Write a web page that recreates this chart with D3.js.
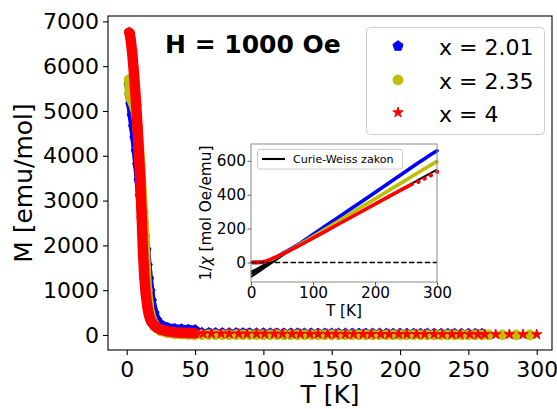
<!DOCTYPE html>
<html lang="en">
<head>
	<title>M(T), H = 1000 Oe</title>
	<meta charset="utf-8">
	<script src="https://d3js.org/d3.v7.min.js" charset="utf-8"></script>
	<style>
	body { margin: 0; background: #fff; }
	svg text { font-family: "DejaVu Sans", sans-serif; fill: #000; }
	</style>
</head>
<body>
	<script>
	// legend / series
	var seriesNames = ['x = 2.01', 'x = 2.35', 'x = 4'];
	var seriesColors = ['#0000ff', '#bfbf00', '#ff0000'];

	// main plot, dense part below 50 K  (M in emu/mol)
	var tLow = [1.8, 2.2, 3, 4, 5, 6, 7, 8, 9, 10, 11, 12, 13, 14, 15, 16, 17, 18, 20, 22, 25, 30, 35, 40, 45, 50];
	var mBlueLow = [5580, 5350, 5150, 4900, 4650, 4400, 4100, 3800, 3450, 3100, 2800, 2500, 2200, 1900, 1550, 1250, 980, 760, 480, 330, 230, 160, 140, 130, 120, 110];
	var mYellowLow = [5700, 5400, 5280, 5230, 5150, 5050, 4900, 4600, 4200, 3800, 3200, 2750, 2200, 1500, 1000, 700, 500, 380, 250, 160, 90, 50, 30, 20, 15, 10];
	var mRedLow = [6750, 6720, 6570, 6300, 5950, 5550, 5100, 4600, 4000, 3400, 2600, 1800, 1250, 900, 650, 480, 370, 300, 220, 170, 120, 80, 60, 50, 45, 40];

	// main plot, sparse part above 50 K
	var tHigh = [55, 60, 65, 70, 75, 80, 85, 90, 95, 100, 105, 110, 115, 120, 125, 130, 135, 140, 145, 150, 155, 160, 165, 170, 175, 180, 185, 190, 195, 200, 205, 210, 215, 220, 225, 230, 235, 240, 245, 250, 255, 260];
	var mBlueHigh = [50, 48, 46, 45, 44, 43, 42, 41, 40, 40, 39, 38, 38, 37, 37, 36, 36, 35, 35, 34, 34, 34, 33, 33, 33, 32, 32, 32, 31, 31, 31, 30, 30, 30, 30, 29, 29, 29, 28, 28, 28, 28];
	var mYellowHigh = [8, 8, 7, 7, 7, 7, 6, 6, 6, 6, 6, 6, 5, 5, 5, 5, 5, 5, 5, 5, 4, 4, 4, 4, 4, 4, 4, 4, 4, 4, 4, 4, 4, 3, 3, 3, 3, 3, 3, 3, 3, 3];
	var tYellowTail = [265, 275, 285, 295];
	var mYellowTail = [3, 3, 3, 2];
	var tRedHigh = [56, 62, 69, 75, 82, 88, 95, 101, 108, 114, 121, 127, 134, 140, 147, 153, 160, 166, 173, 179, 186, 192, 199, 205, 212, 218, 225, 231, 238, 244, 251, 257, 262, 270, 280, 290, 300];
	var mRedHigh = [32, 30, 29, 28, 27, 26, 25, 24, 24, 23, 22, 22, 21, 21, 20, 20, 19, 19, 18, 18, 18, 17, 17, 17, 16, 16, 16, 15, 15, 15, 15, 14, 14, 13, 13, 12, 12];

	// inset: 1/chi in mol Oe/emu
	var insetT = [2, 5, 10, 15, 20, 25, 30, 35, 40, 45, 50, 60, 70, 80, 90, 100, 120, 140, 160, 180, 200, 220, 240, 260];
	var invBlue = [0, 0, 1, 1, 2, 6, 12, 20, 30, 40, 52, 72, 93, 115, 140, 165, 215, 264, 314, 363, 413, 463, 513, 563];
	var invYellow = [0, 0, 1, 1, 3, 7, 13, 21, 30, 40, 50, 68, 88, 110, 131, 153, 198, 242, 287, 331, 375, 420, 464, 509];
	var invRed = [1, 1, 1, 2, 4, 9, 16, 24, 32, 40, 48, 66, 85, 104, 124, 144, 184, 224, 264, 304, 344, 384, 424, 462];
	var insetTailT = [270, 280, 290, 300];
	var invBlueTail = [588, 612, 637, 659];
	var invYellowTail = [531, 553, 575, 594];
	var invRedTail = [476, 495, 515, 535];

	// Curie-Weiss fits, end points at T = 0 and T = 300
	var fitT = [0, 300];
	var fitBlue = [-85, 662];
	var fitYellow = [-69, 600];
	var fitRed = [-56, 548];

	var mainTicksX = [0, 50, 100, 150, 200, 250, 300];
	var mainTicksY = [0, 1000, 2000, 3000, 4000, 5000, 6000, 7000];
	var insetTicksX = [0, 100, 200, 300];
	var insetTicksY = [0, 200, 400, 600];

	var width = 557;
	var height = 409;

	var svg = d3.select('body')
	.append('svg')
	.attr('width', width)
	.attr('height', height);

	var x = d3.scaleLinear().domain([-13.7, 311.2]).range([108, 552]);
	var y = d3.scaleLinear().domain([-335, 7120]).range([350, 16]);

	function zip(ts, ms) {
		return ts.map(function(t, i) { return [t, ms[i]]; });
	}

	function pentagon(r) {
		var pts = [];
		for (var k = 0; k < 5; k++) {
			var a = -Math.PI / 2 + k * 2 * Math.PI / 5;
			pts.push([r * Math.cos(a), r * Math.sin(a)]);
		}
		return 'M' + pts.join('L') + 'Z';
	}
	var markers = [
		pentagon(5.3),
		d3.symbol(d3.symbolCircle, Math.PI * 4.9 * 4.9)(),
		d3.symbol(d3.symbolStar, 5.4 * 5.4 / 0.8908)()
	];
	var bandWidth = [9, 10, 10.5];

	// axes
	var gx = svg.append('g')
	.attr('transform', 'translate(0,350)')
	.call(d3.axisBottom(x).tickValues(mainTicksX).tickFormat(d3.format('d')).tickSize(5).tickPadding(6).tickSizeOuter(0));
	var gy = svg.append('g')
	.attr('transform', 'translate(108,0)')
	.call(d3.axisLeft(y).tickValues(mainTicksY).tickFormat(d3.format('d')).tickSize(5).tickPadding(4).tickSizeOuter(0));
	[gx, gy].forEach(function(g) {
		g.select('.domain').remove();
		g.selectAll('line').attr('stroke', '#000').attr('stroke-width', 1.1);
		g.selectAll('text').attr('font-size', 22).attr('font-family', 'DejaVu Sans');
	});

	svg.append('rect')
	.attr('x', 108).attr('y', 16).attr('width', 444).attr('height', 334)
	.attr('fill', 'none').attr('stroke', '#000').attr('stroke-width', 1.1);

	var lowSets = [mBlueLow, mYellowLow, mRedLow];
	var highSets = [zip(tHigh, mBlueHigh), zip(tHigh, mYellowHigh).concat(zip(tYellowTail, mYellowTail)), zip(tRedHigh, mRedHigh)];

	var line = d3.line().x(function(d) { return x(d[0]); }).y(function(d) { return y(d[1]); });

	var plot = svg.append('g');
	lowSets.forEach(function(ms, i) {
		var low = zip(tLow, ms);
		plot.append('path')
		.attr('d', line(low))
		.attr('fill', 'none')
		.attr('stroke', seriesColors[i])
		.attr('stroke-width', bandWidth[i])
		.attr('stroke-linecap', 'round')
		.attr('stroke-linejoin', 'round');

		plot.append('g').selectAll('path')
		.data(low.concat(highSets[i]))
		.enter()
		.append('path')
		.attr('d', markers[i])
		.attr('transform', function(d) { return 'translate(' + x(d[0]) + ',' + y(d[1]) + ')'; })
		.attr('fill', seriesColors[i])
		.attr('stroke', seriesColors[i])
		.attr('stroke-width', 1);
	});

	svg.append('text')
	.attr('x', 165).attr('y', 53)
	.attr('font-size', 25).attr('font-weight', 'bold')
	.text('H = 1000 Oe');

	svg.append('text')
	.attr('x', 330).attr('y', 403)
	.attr('text-anchor', 'middle').attr('font-size', 25)
	.text('T [K]');

	svg.append('text')
	.attr('transform', 'translate(32,183) rotate(-90)')
	.attr('text-anchor', 'middle').attr('font-size', 25)
	.text('M [emu/mol]');

	// main legend
	var leg = svg.append('g');
	leg.append('rect')
	.attr('x', 366.5).attr('y', 27.5).attr('width', 178).attr('height', 107)
	.attr('rx', 4).attr('fill', '#fff').attr('fill-opacity', 0.8)
	.attr('stroke', '#cccccc').attr('stroke-width', 1);
	var legY = [46, 80, 112.5];
	seriesNames.forEach(function(name, i) {
		leg.append('path')
		.attr('d', markers[i])
		.attr('transform', 'translate(398,' + legY[i] + ')')
		.attr('fill', seriesColors[i])
		.attr('stroke', seriesColors[i]);
		leg.append('text')
		.attr('x', 439).attr('y', legY[i] + 9)
		.attr('font-size', 22)
		.text(name);
	});

	// inset
	var xi = d3.scaleLinear().domain([0, 300]).range([251, 437]);
	var yi = d3.scaleLinear().domain([-115, 699]).range([282, 144]);

	svg.append('rect')
	.attr('x', 251).attr('y', 144).attr('width', 186).attr('height', 138)
	.attr('fill', '#fff');

	var lineI = d3.line().x(function(d) { return xi(d[0]); }).y(function(d) { return yi(d[1]); });

	var inset = svg.append('g');
	[fitBlue, fitYellow, fitRed].forEach(function(f) {
		inset.append('path')
		.attr('d', lineI(zip(fitT, f)))
		.attr('fill', 'none').attr('stroke', '#000').attr('stroke-width', 2.1);
	});

	var invSets = [invBlue, invYellow, invRed];
	var invTails = [invBlueTail, invYellowTail, invRedTail];
	invSets.forEach(function(vs, i) {
		var pts = zip(insetT, vs);
		if (i < 2) pts = pts.concat(zip(insetTailT, invTails[i]));
		inset.append('path')
		.attr('d', lineI(pts))
		.attr('fill', 'none')
		.attr('stroke', seriesColors[i])
		.attr('stroke-width', 3.6)
		.attr('stroke-linecap', 'round')
		.attr('stroke-linejoin', 'round');
	});
	inset.append('g').selectAll('circle')
	.data(zip(insetTailT, invRedTail))
	.enter()
	.append('circle')
	.attr('cx', function(d) { return xi(d[0]); })
	.attr('cy', function(d) { return yi(d[1]); })
	.attr('r', 2.2)
	.attr('fill', seriesColors[2]);

	inset.append('line')
	.attr('x1', xi(0)).attr('x2', xi(300))
	.attr('y1', yi(0)).attr('y2', yi(0))
	.attr('stroke', '#000').attr('stroke-width', 1.5)
	.attr('stroke-dasharray', '5.5,2.4');

	var gxi = svg.append('g')
	.attr('transform', 'translate(0,282)')
	.call(d3.axisBottom(xi).tickValues(insetTicksX).tickSize(3.5).tickPadding(2).tickSizeOuter(0));
	var gyi = svg.append('g')
	.attr('transform', 'translate(251,0)')
	.call(d3.axisLeft(yi).tickValues(insetTicksY).tickSize(3.5).tickPadding(1.5).tickSizeOuter(0));
	[gxi, gyi].forEach(function(g) {
		g.select('.domain').remove();
		g.selectAll('line').attr('stroke', '#555').attr('stroke-width', 1);
		g.selectAll('text').attr('font-size', 15.3).attr('font-family', 'DejaVu Sans');
	});

	svg.append('rect')
	.attr('x', 251).attr('y', 144).attr('width', 186).attr('height', 138)
	.attr('fill', 'none').attr('stroke', '#888').attr('stroke-width', 1);

	svg.append('text')
	.attr('x', 344).attr('y', 316)
	.attr('text-anchor', 'middle').attr('font-size', 15.3)
	.text('T [K]');

	var ylab = svg.append('text')
	.attr('transform', 'translate(211,213) rotate(-90)')
	.attr('text-anchor', 'middle').attr('font-size', 15.3);
	ylab.append('tspan').text('1/');
	ylab.append('tspan').attr('font-style', 'italic').text('χ');
	ylab.append('tspan').text(' [mol Oe/emu]');

	// inset legend
	svg.append('rect')
	.attr('x', 257.5).attr('y', 149.5).attr('width', 145).attr('height', 19.5)
	.attr('rx', 2.5).attr('fill', '#fff').attr('fill-opacity', 0.8)
	.attr('stroke', '#cccccc').attr('stroke-width', 1);
	svg.append('line')
	.attr('x1', 262).attr('x2', 285).attr('y1', 159).attr('y2', 159)
	.attr('stroke', '#000').attr('stroke-width', 2.1);
	svg.append('text')
	.attr('x', 293).attr('y', 163)
	.attr('font-size', 11.1)
	.text('Curie-Weiss zakon');
	</script>
</body>
</html>
